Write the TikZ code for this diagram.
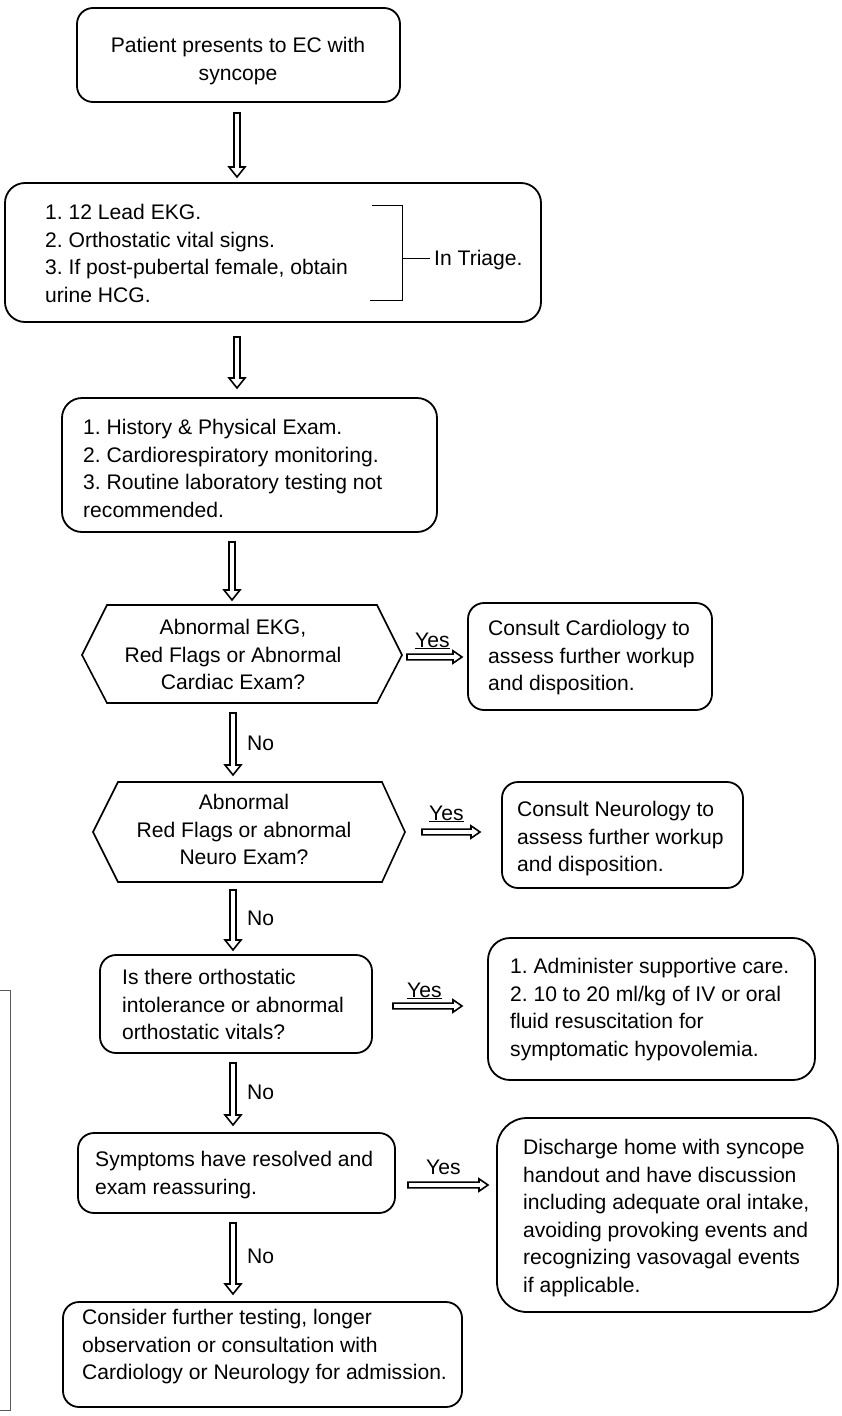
\documentclass[tikz,border=0pt]{standalone}
\usepackage{fontspec}
\setmainfont{Liberation Sans}
\usetikzlibrary{calc}
\frenchspacing
\begin{document}
\begin{tikzpicture}[x=1pt,y=-1pt,
  rbox/.style={draw, line width=1.8pt, rounded corners=16pt, inner sep=0pt},
  txt/.style={inner sep=0pt, align=left, anchor=north west, font=\fontsize{21.1pt}{27.6pt}\selectfont},
  ctxt/.style={inner sep=0pt, align=center, anchor=north, font=\fontsize{21.1pt}{27.6pt}\selectfont},
  lbl/.style={inner sep=0pt, anchor=base west, font=\fontsize{21.1pt}{27.6pt}\selectfont},
  hexline/.style={draw, line width=1.6pt, line join=miter},
  thinline/.style={draw, line width=0.9pt},
  vblock/.style={draw, line width=1.6pt, fill=white, line join=miter,
    to path={let \p1=(\tikztostart), \p2=(\tikztotarget) in
      (\x1-3pt,\y1) -- (\x1+3pt,\y1) -- (\x1+3pt,\y2+10pt) -- (\x1+8pt,\y2+10pt)
      -- (\x1,\y2) -- (\x1-8pt,\y2+10pt) -- (\x1-3pt,\y2+10pt) -- cycle}},
  hblock/.style={draw, line width=1.6pt, fill=white, line join=miter,
    to path={let \p1=(\tikztostart), \p2=(\tikztotarget) in
      (\x1,\y1+2.9pt) -- (\x2-9pt,\y1+2.9pt) -- (\x2-9pt,\y1+6.2pt) -- (\x2,\y1)
      -- (\x2-9pt,\y1-6.2pt) -- (\x2-9pt,\y1-2.9pt) -- (\x1,\y1-2.9pt) -- cycle}}
]
\useasboundingbox (0,0) rectangle (841,1416);

% boxes
\node[rbox, minimum width=323pt, minimum height=94pt] (b1) at (238.5,55) {};
\node[rbox, rounded corners=20pt, minimum width=536pt, minimum height=139pt] (b2) at (273,252.5) {};
\node[rbox, rounded corners=20pt, minimum width=375pt, minimum height=134pt] (b3) at (249.5,465) {};
\node[rbox, minimum width=244pt, minimum height=107pt] (b4) at (590,656.5) {};
\node[rbox, minimum width=241pt, minimum height=106pt] (b5) at (622.5,835) {};
\node[rbox, minimum width=272pt, minimum height=98pt] (b6) at (236,1004) {};
\node[rbox, rounded corners=22pt, minimum width=327pt, minimum height=142pt] (b7) at (651.5,1009) {};
\node[rbox, minimum width=317pt, minimum height=80pt] (b8) at (236.5,1173) {};
\node[rbox, rounded corners=30pt, minimum width=341pt, minimum height=194pt] (b9) at (667.5,1215) {};
\node[rbox, minimum width=399pt, minimum height=105pt] (b10) at (262.5,1354.5) {};

% hexagons
\draw[hexline] (82,655) -- (107,605) -- (377,605) -- (402,655) -- (377,703) -- (107,703) -- cycle;
\draw[hexline] (93,832) -- (118,782) -- (382,782) -- (405,832) -- (382,882) -- (118,882) -- cycle;

% texts
\node[ctxt] (t1) at (238,37) {Patient presents to EC with\\syncope};
\node[txt] (t2) at (45,204) {1. 12 Lead EKG.\\2. Orthostatic vital signs.\\3. If post-pubertal female, obtain\\urine HCG.};
\node[txt] (t3) at (83,419) {1. History \& Physical Exam.\\2. Cardiorespiratory monitoring.\\3. Routine laboratory testing not\\recommended.};
\node[ctxt] (hex1) at (233,619) {Abnormal EKG,\\Red Flags or Abnormal\\Cardiac Exam?};
\node[txt] (t4) at (488,620) {Consult Cardiology to\\assess further workup\\and disposition.};
\node[ctxt] (hex2) at (244,794) {Abnormal\\Red Flags or abnormal\\Neuro Exam?};
\node[txt] (t5) at (517,801) {Consult Neurology to\\assess further workup\\and disposition.};
\node[txt] (t6) at (122,969) {Is there orthostatic\\intolerance or abnormal\\orthostatic vitals?};
\node[txt] (t7) at (510,958) {1. Administer supportive care.\\2. 10 to 20 ml/kg of IV or oral\\fluid resuscitation for\\symptomatic hypovolemia.};
\node[txt] (t8) at (95,1151) {Symptoms have resolved and\\exam reassuring.};
\node[txt] (t9) at (523,1139) {Discharge home with syncope\\handout and have discussion\\including adequate oral intake,\\avoiding provoking events and\\recognizing vasovagal events\\if applicable.};
\node[txt] (t10) at (82,1309) {Consider further testing, longer\\observation or consultation with\\Cardiology or Neurology for admission.};

% triage bracket
\node[lbl] (tri) at (434,265) {In Triage.};
\draw[thinline] (372,205) -- (402,205) -- (402,300) -- (370,300);
\coordinate (brm) at (402,258);
\draw[thinline] (brm) -- ([xshift=-4pt]tri.west |- brm);

% vertical arrows
\coordinate (a1s) at (237,113);  \coordinate (a1e) at (237,177);
\coordinate (a2s) at (237,337);  \coordinate (a2e) at (237,388);
\coordinate (a3s) at (232,542);  \coordinate (a3e) at (232,600);
\coordinate (a4s) at (233,713);  \coordinate (a4e) at (233,775);
\coordinate (a5s) at (233,890);  \coordinate (a5e) at (233,950);
\coordinate (a6s) at (233,1063); \coordinate (a6e) at (233,1125);
\coordinate (a7s) at (233,1223); \coordinate (a7e) at (233,1294);
\foreach \i in {1,...,7} {\draw[vblock] (a\i s) to (a\i e);}

% horizontal arrows
\coordinate (h1s) at (407,657);  \coordinate (h1e) at (462,657);
\coordinate (h2s) at (422,832);  \coordinate (h2e) at (480,832);
\coordinate (h3s) at (393,1006); \coordinate (h3e) at (462,1006);
\coordinate (h4s) at (408,1185); \coordinate (h4e) at (488,1185);
\foreach \i in {1,...,4} {\draw[hblock] (h\i s) to (h\i e);}

% labels
\node[lbl] (y1) at (415,647) {Yes};
\node[lbl] (y2) at (429,820) {Yes};
\node[lbl] (y3) at (407,997) {Yes};
\node[lbl] (y4) at (426,1174) {Yes};
\foreach \i in {1,2,3} {\draw[line width=1pt] ([yshift=-1.8pt]y\i.base west) -- ([yshift=-1.8pt]y\i.base east);}
\node[lbl] (n1) at (247,750) {No};
\node[lbl] (n2) at (247,925) {No};
\node[lbl] (n3) at (247,1099) {No};
\node[lbl] (n4) at (247,1263) {No};

% partial frame at left edge
\draw[line width=0.8pt, black!65] (-5,990) -- (10,990) -- (10,1410) -- (-5,1410);
\end{tikzpicture}
\end{document}
